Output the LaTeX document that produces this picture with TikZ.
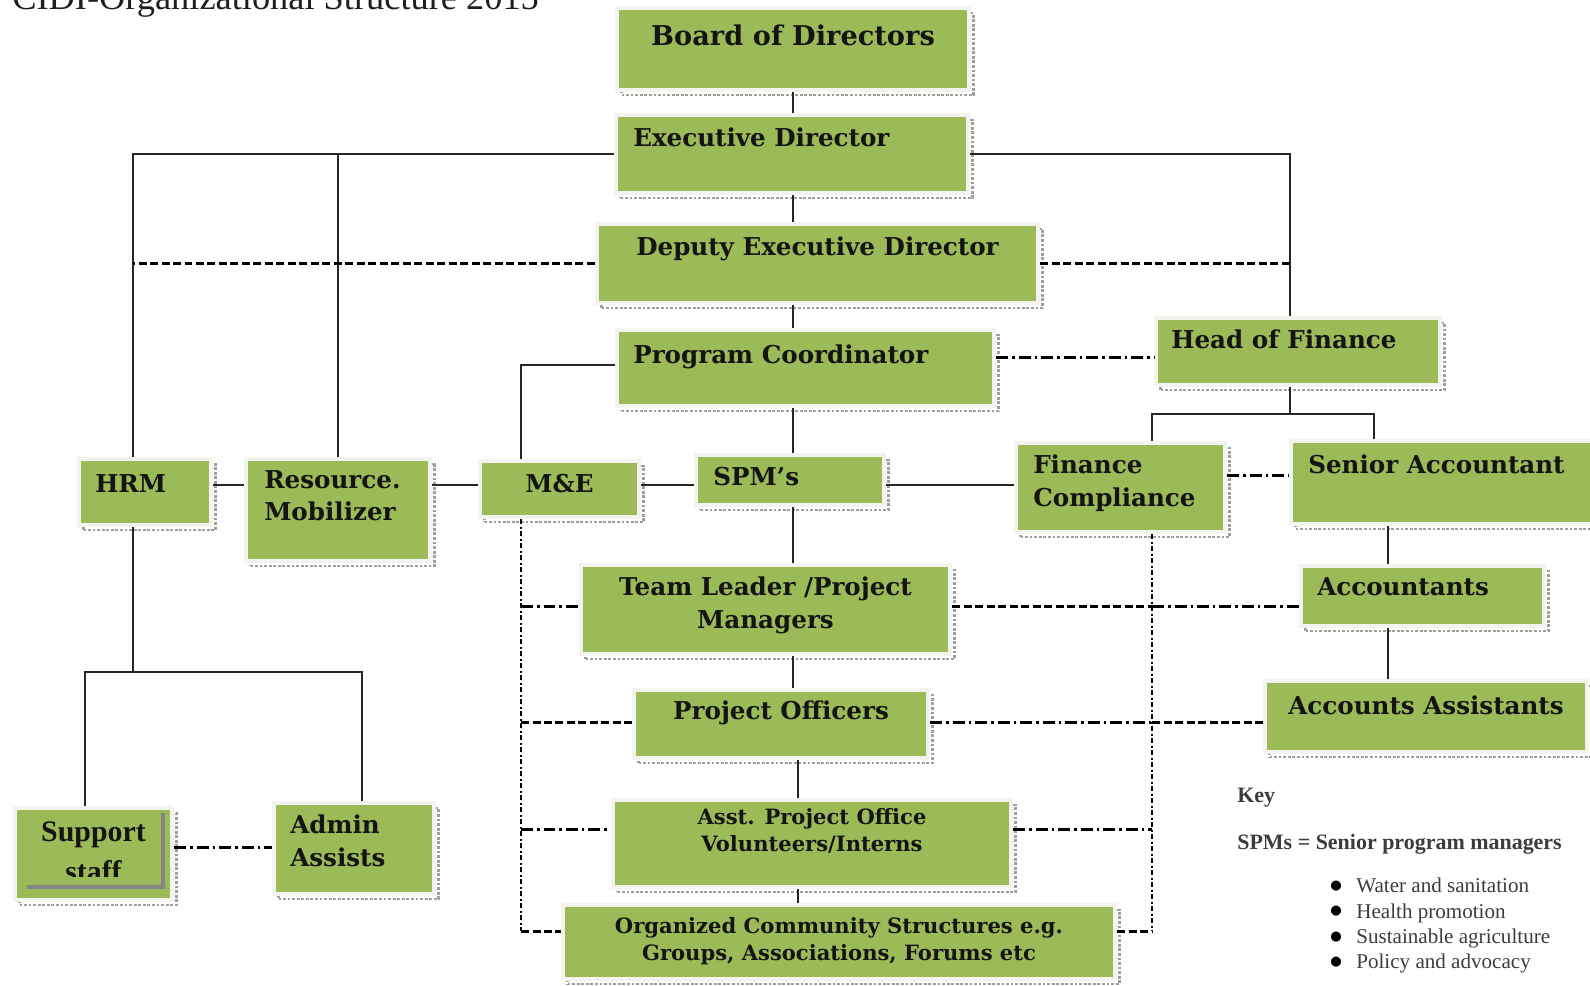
\documentclass[tikz,border=0pt]{standalone}
\usepackage{fontspec}
\setmainfont{Liberation Serif}
\newfontfamily\chartfont{DejaVu Serif}
\newfontfamily\dotfont{DejaVu Sans}
\usetikzlibrary{positioning,shadows}
\definecolor{chartgreen}{HTML}{9BBB59}
\definecolor{chartrim}{HTML}{F3F4EE}
\definecolor{shadegrey}{HTML}{9E9E9E}
\definecolor{keygrey}{HTML}{3C3C3C}
\definecolor{innergrey}{HTML}{858585}

\tikzset{
  link/.style={draw=black!85, line width=0.9pt},
  dashlink/.style={draw=black, line width=1.7pt, dash pattern=on 0.16cm off 0.07cm},
  dashdotlink/.style={draw=black, line width=1.7pt, dash pattern=on 0.24cm off 0.08cm on 0.05cm off 0.08cm},
  dotlink/.style={draw=black, line width=1.6pt, dash pattern=on 0.1cm off 0.05cm on 0.04cm off 0.05cm}
}
\newcommand{\keydot}{\makebox[0.52cm][l]{\raisebox{0.35ex}{\dotfont\color{black}\fontsize{7.5}{7.5}\selectfont ●}}}

\begin{document}
\begin{tikzpicture}[x=0.02cm, y=-0.02cm,
    box/.style={fill=chartgreen, draw=chartrim, line width=2.4pt, inner sep=0pt,
      drop shadow={shadow xshift=0.09cm, shadow yshift=-0.1cm, fill=none, draw=shadegrey, densely dotted, line width=1.6pt, opacity=1}},
    lbl/.style={font=\chartfont\bfseries\fontsize{14}{18.5}\selectfont, inner sep=0pt, align=left, text=black!92},
    smalllbl/.style={lbl, font=\chartfont\bfseries\fontsize{12}{15.6}\selectfont, align=center},
    keytext/.style={font=\fontsize{12}{14.4}\selectfont, inner sep=0pt, text=keygrey, align=left}
  ]
  \useasboundingbox (0,0) rectangle (1590,985);
  \clip (0,0) rectangle (1590,985);

  % heading, its top runs off the page
  \node[anchor=base west, inner sep=0pt, font=\fontsize{20.7}{24}\selectfont, text=black!88] (title) at (12,9) {CIDI-Organizational Structure 2015};

  % central line of command
  \node[box, minimum width=7.04cm, minimum height=1.64cm,
    label={[lbl, font=\chartfont\bfseries\fontsize{15.5}{18}\selectfont, anchor=north, yshift=-0.38cm]north:Board of Directors}] (board) at (793,49) {};
  \node[box, minimum width=7.04cm, minimum height=1.56cm,
    label={[lbl, anchor=north west, xshift=0.38cm, yshift=-0.3cm]north west:Executive Director}] (exec) at (792,154) {};
  \node[box, minimum width=8.82cm, minimum height=1.58cm,
    label={[lbl, anchor=north, yshift=-0.3cm]north:Deputy Executive Director}] (deputy) at (817.5,263.5) {};
  \node[box, minimum width=7.54cm, minimum height=1.52cm,
    label={[lbl, anchor=north west, xshift=0.36cm, yshift=-0.34cm]north west:Program Coordinator}] (prog) at (805.5,368) {};
  \node[box, minimum width=3.76cm, minimum height=1cm,
    label={[lbl, anchor=north west, xshift=0.38cm, yshift=-0.28cm]north west:SPM’s}] (spm) at (790,480) {};
  \node[box, minimum width=7.38cm, minimum height=1.78cm,
    label={[lbl, align=center, anchor=north, yshift=-0.28cm]north:Team Leader /Project\\Managers}] (team) at (765.5,609.5) {};
  \node[box, minimum width=5.88cm, minimum height=1.36cm,
    label={[lbl, anchor=north, yshift=-0.26cm]north:Project Officers}] (officers) at (781,724) {};
  \node[box, minimum width=7.96cm, minimum height=1.74cm,
    label={[smalllbl, anchor=north, yshift=-0.2cm]north:Asst. Project Office\\Volunteers/Interns}] (asst) at (812,843.5) {};
  \node[box, minimum width=11.04cm, minimum height=1.48cm,
    label={[smalllbl, anchor=north, yshift=-0.28cm]north:Organized Community Structures e.g.\\Groups, Associations, Forums etc}] (community) at (839,942) {};

  % left side
  \node[box, minimum width=2.64cm, minimum height=1.32cm,
    label={[lbl, anchor=north west, xshift=0.36cm, yshift=-0.34cm]north west:HRM}] (hrm) at (145,492) {};
  \node[box, minimum width=3.68cm, minimum height=2.04cm,
    label={[lbl, anchor=north west, xshift=0.4cm, yshift=-0.26cm]north west:Resource.\\Mobilizer}] (resource) at (338,510) {};
  \node[box, minimum width=3.18cm, minimum height=1.12cm,
    label={[lbl, anchor=north, yshift=-0.3cm]north:M\&E}] (mande) at (559.5,489) {};
  \node[box, minimum width=3.14cm, minimum height=1.84cm,
    label={[lbl, font=\rmfamily\bfseries\fontsize{17}{23}\selectfont, align=center, anchor=north, yshift=-0.3cm]north:Support\\staff}] (staff) at (93.5,854) {};
  \node[box, minimum width=3.2cm, minimum height=1.82cm,
    label={[lbl, anchor=north west, xshift=0.36cm, yshift=-0.28cm]north west:Admin\\Assists}] (admin) at (354,848.5) {};

  % inner edge on the support staff box
  \fill[chartgreen] (19,877) rectangle (168,897);
  \fill[innergrey] (161,813) rectangle (165,889);
  \fill[innergrey] (27,885) rectangle (165,889);

  % finance side
  \node[box, minimum width=5.68cm, minimum height=1.34cm,
    label={[lbl, anchor=north west, xshift=0.34cm, yshift=-0.28cm]north west:Head of Finance}] (hof) at (1298,351.5) {};
  \node[box, minimum width=4.18cm, minimum height=1.78cm,
    label={[lbl, anchor=north west, xshift=0.38cm, yshift=-0.28cm]north west:Finance\\Compliance}] (fc) at (1120.5,487.5) {};
  \node[box, minimum width=6.38cm, minimum height=1.66cm,
    label={[lbl, anchor=north west, xshift=0.38cm, yshift=-0.32cm]north west:Senior Accountant}] (senior) at (1450.5,482.5) {};
  \node[box, minimum width=4.86cm, minimum height=1.2cm,
    label={[lbl, anchor=north west, xshift=0.36cm, yshift=-0.26cm]north west:Accountants}] (acct) at (1422.5,596) {};
  \node[box, minimum width=6.44cm, minimum height=1.42cm,
    label={[lbl, anchor=north, yshift=-0.34cm]north:Accounts Assistants}] (acctasst) at (1426,716.5) {};

  % key
  \node[keytext, font=\bfseries\fontsize{12.5}{15}\selectfont, anchor=base west] (keyhead) at (1237,802) {Key};
  \node[keytext, font=\bfseries\fontsize{12.5}{15}\selectfont, anchor=base west] (keyspm) at (1237,849) {SPMs = Senior program managers};
  \node[keytext, anchor=north west] (keylist) at (1330,878) {\keydot Water and sanitation\\
    \keydot Health promotion\\
    \keydot Sustainable agriculture\\
    \keydot Policy and advocacy};

  % trunks and rows for the connectors
  \coordinate (spine) at (793,0);
  \coordinate (lowspine) at (798,0);
  \coordinate (hrmx) at (133,0);
  \coordinate (finx) at (1290,0);
  \coordinate (mex) at (521,0);
  \coordinate (fcx) at (1152,0);
  \coordinate (seniorx) at (1374,0);
  \coordinate (acctx) at (1388,0);
  \coordinate (staffx) at (85,0);
  \coordinate (adminx) at (362,0);
  \coordinate (finrow) at (0,357);
  \coordinate (progrow) at (0,365);
  \coordinate (finsplit) at (0,414);
  \coordinate (fcrow) at (0,475);
  \coordinate (midrow) at (0,485);
  \coordinate (teamrow) at (0,606);
  \coordinate (hrsplit) at (0,672);
  \coordinate (offrow) at (0,722);
  \coordinate (asstrow) at (0,829);
  \coordinate (supportrow) at (0,847);
  \coordinate (commrow) at (0,931);

  % straight reporting lines
  \draw[link] (board.south -| spine) -- (exec.north -| spine);
  \draw[link] (exec.south -| spine) -- (deputy.north -| spine);
  \draw[link] (deputy.south -| spine) -- (prog.north -| spine);
  \draw[link] (prog.south -| spine) -- (spm.north -| spine);
  \draw[link] (spm.south -| spine) -- (team.north -| spine);
  \draw[link] (team.south -| spine) -- (officers.north -| spine);
  \draw[link] (officers.south -| lowspine) -- (asst.north -| lowspine);
  \draw[link] (asst.south -| lowspine) -- (community.north -| lowspine);

  \draw[link] (exec.west) -| (hrmx |- hrm.north);
  \draw[link] (exec.west -| resource.north) -- (resource.north);
  \draw[link] (exec.east) -| (finx |- hof.north);
  \draw[link] (prog.west |- progrow) -| (mex |- mande.north);

  \draw[link] (hrm.east |- midrow) -- (resource.west |- midrow);
  \draw[link] (resource.east |- midrow) -- (mande.west |- midrow);
  \draw[link] (mande.east |- midrow) -- (spm.west |- midrow);
  \draw[link] (spm.east |- midrow) -- (fc.west |- midrow);

  \draw[link] (hof.south -| finx) -- (finx |- finsplit);
  \draw[link] (fcx |- fc.north) -- (fcx |- finsplit) -- (seniorx |- finsplit) -- (seniorx |- senior.north);
  \draw[link] (acctx |- senior.south) -- (acctx |- acct.north);
  \draw[link] (acctx |- acct.south) -- (acctx |- acctasst.north);

  \draw[link] (hrmx |- hrm.south) -- (hrmx |- hrsplit);
  \draw[link] (staffx |- staff.north) -- (staffx |- hrsplit) -- (adminx |- hrsplit) -- (adminx |- admin.north);

  % dashed and dotted liaison lines
  \draw[dashlink] (deputy.west) -- (deputy.west -| hrmx);
  \draw[dashlink] (deputy.east) -- (deputy.east -| finx);
  \draw[dashdotlink] (prog.east |- finrow) -- (hof.west |- finrow);
  \draw[dashdotlink] (fc.east |- fcrow) -- (senior.west |- fcrow);
  \draw[dashdotlink] (staff.east |- supportrow) -- (admin.west |- supportrow);

  \draw[dotlink] (mex |- mande.south) -- (mex |- commrow);
  \draw[dashlink] (mex |- commrow) -- (community.west |- commrow);
  \draw[dotlink] (fcx |- fc.south) -- (fcx |- commrow);
  \draw[dashlink] (community.east |- commrow) -- (fcx |- commrow);

  \draw[dashdotlink] (mex |- teamrow) -- (team.west |- teamrow);
  \draw[dashlink] (team.east |- teamrow) -- (fcx |- teamrow);
  \draw[dashdotlink] (fcx |- teamrow) -- (acct.west |- teamrow);
  \draw[dashlink] (mex |- offrow) -- (officers.west |- offrow);
  \draw[dashdotlink] (officers.east |- offrow) -- (fcx |- offrow);
  \draw[dashlink] (fcx |- offrow) -- (acctasst.west |- offrow);
  \draw[dashdotlink] (mex |- asstrow) -- (asst.west |- asstrow);
  \draw[dashdotlink] (asst.east |- asstrow) -- (fcx |- asstrow);
\end{tikzpicture}
\end{document}
